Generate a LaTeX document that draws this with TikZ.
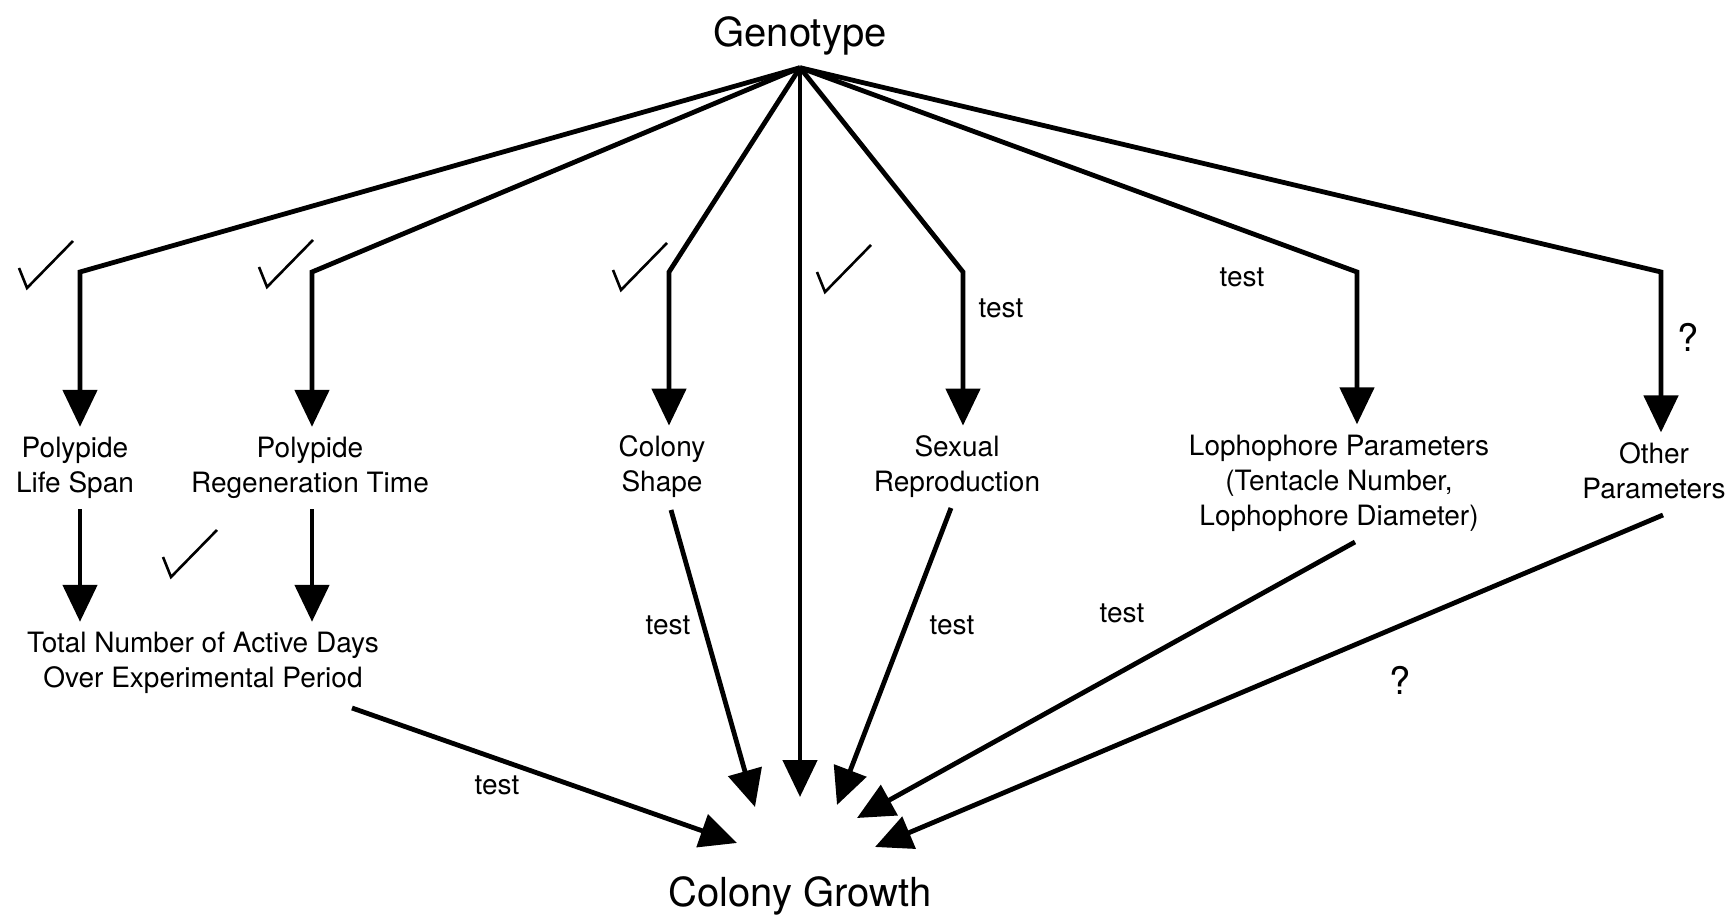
\documentclass[tikz,border=0pt]{standalone}
\usepackage{fontspec}
\setmainfont{TeX Gyre Heros}
\usetikzlibrary{arrows.meta}
\tikzset{
    box/.style={ % the labels under the arrows
        align=center,
        inner sep=5pt,
        font=\fontsize{14}{17.5}\selectfont
    },
    title/.style={ % Genotype and Colony Growth
        inner sep=6pt,
        font=\fontsize{20}{24}\selectfont
    },
    note/.style={inner sep=0pt, font=\fontsize{14}{16}\selectfont},
    query/.style={inner sep=0pt, font=\fontsize{19}{22}\selectfont},
    arr/.style={ % thick lines with big solid heads
        draw,
        line width=2.4pt,
        -{Triangle[width=17pt,length=18.5pt]}
    },
    tick/.pic={
        \draw[line width=1.3pt] (-8,-20) -- (0,0) -- (46,-47);
    }
}
\begin{document}
\begin{tikzpicture}[x=0.5pt, y=-0.5pt] % one unit = one pixel, y grows downwards
    \useasboundingbox (0,0) rectangle (1735,919);

    \node[title] (gen) at (800,36) {Genotype};
    \node[title] (growth) at (800,896) {Colony Growth};

    \node[box] (life) at (75,468) {Polypide\\Life Span};
    \node[box] (regen) at (310,468) {Polypide\\Regeneration Time};
    \node[box] (shape) at (662,467) {Colony\\Shape};
    \node[box] (sexual) at (957,467) {Sexual\\Reproduction};
    \node[box] (loph) at (1339,483) {Lophophore Parameters\\(Tentacle Number,\\Lophophore Diameter)};
    \node[box] (other) at (1654,471) {Other\\Parameters};
    \node[box] (total) at (203,663) {Total Number of Active Days\\Over Experimental Period};

    % corners of the bent arrows
    \coordinate (c1) at (80,272);
    \coordinate (c2) at (312,272);
    \coordinate (c3) at (669,272);
    \coordinate (c4) at (963,272);
    \coordinate (c5) at (1357,272);
    \coordinate (c6) at (1661,272);

    \draw[arr] (gen.south) -- (c1) -- (c1 |- life.north);
    \draw[arr] (gen.south) -- (c2) -- (c2 |- regen.north);
    \draw[arr] (gen.south) -- (c3) -- (c3 |- shape.north);
    \draw[arr] (gen.south) -- (c4) -- (c4 |- sexual.north);
    \draw[arr] (gen.south) -- (c5) -- (c5 |- loph.north);
    \draw[arr] (gen.south) -- (c6) -- (c6 |- other.north);
    \draw[arr] (gen.south) -- ([shift={(0,-99)}]growth.center);

    \draw[arr] (c1 |- life.south) -- (c1 |- total.north);
    \draw[arr] (c2 |- regen.south) -- (c2 |- total.north);

    \draw[arr] ([shift={(149,45)}]total.center) -- ([shift={(-63,-53)}]growth.center);
    \draw[arr] ([shift={(9,43)}]shape.center) -- ([shift={(-45,-89)}]growth.center);
    \draw[arr] ([shift={(-6,41)}]sexual.center) -- ([shift={(37,-91)}]growth.center);
    \draw[arr] ([shift={(16,59)}]loph.center) -- ([shift={(57,-78)}]growth.center);
    \draw[arr] ([shift={(9,44)}]other.center) -- ([shift={(75,-49)}]growth.center);

    \node[note] (n1) at (1001,308) {test};
    \node[note] (n2) at (1242,277) {test};
    \node[note] (n3) at (668,625) {test};
    \node[note] (n4) at (952,625) {test};
    \node[note] (n5) at (1122,613) {test};
    \node[note] (n6) at (497,785) {test};
    \node[query] (q1) at (1688,337) {?};
    \node[query] (q2) at (1400,680) {?};

    \foreach \p in {(27,288), (267,287), (621,290), (825,292), (171,577)}
        \pic at \p {tick};
\end{tikzpicture}
\end{document}
